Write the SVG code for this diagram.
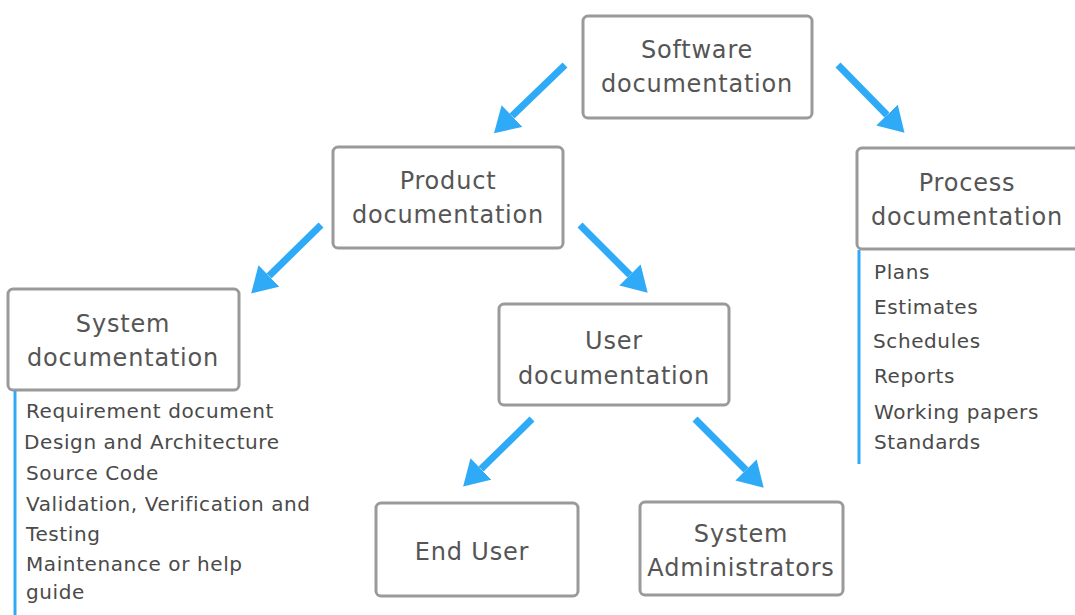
<svg xmlns="http://www.w3.org/2000/svg" width="1075" height="615" viewBox="0 0 1075 615">
  <style>
    .box { fill: #ffffff; stroke: #9a9a9a; stroke-width: 3; }
    .label { font-family: "DejaVu Sans", "Liberation Sans", sans-serif; font-size: 24px; letter-spacing: 0.8px; fill: #555555; text-anchor: middle; }
    .item { font-family: "DejaVu Sans", "Liberation Sans", sans-serif; font-size: 20px; letter-spacing: 0.6px; fill: #4a4a4a; }
    .arrow { stroke: #2eaaf7; stroke-width: 7; fill: none; marker-end: url(#head); }
    .rail { stroke: #2eaaf7; stroke-width: 3; }
  </style>
  <defs>
    <marker id="head" viewBox="0 0 10 10" refX="0" refY="5" markerWidth="25" markerHeight="30" markerUnits="userSpaceOnUse" orient="auto" preserveAspectRatio="none">
      <path d="M0,0 L10,5 L0,10 z" fill="#2eaaf7"/>
    </marker>
  </defs>
  <rect width="1075" height="615" fill="#ffffff"/>

  <g id="connectors">
    <line class="arrow" x1="565" y1="65" x2="512" y2="116"/>
    <line class="arrow" x1="838" y1="65" x2="887" y2="115"/>
    <line class="arrow" x1="321" y1="225" x2="269" y2="276"/>
    <line class="arrow" x1="580" y1="225" x2="630" y2="275"/>
    <line class="arrow" x1="532" y1="419" x2="481" y2="469"/>
    <line class="arrow" x1="695" y1="419" x2="746" y2="470"/>
  </g>

  <g id="software">
    <rect class="box" x="583" y="16" width="229" height="102" rx="5"/>
    <text class="label" x="697" y="58">Software</text>
    <text class="label" x="697" y="92">documentation</text>
  </g>

  <g id="product">
    <rect class="box" x="333" y="147" width="230" height="101" rx="5"/>
    <text class="label" x="448" y="189">Product</text>
    <text class="label" x="448" y="223">documentation</text>
  </g>

  <g id="process">
    <rect class="box" x="857" y="148" width="225" height="101" rx="5"/>
    <text class="label" x="967" y="191">Process</text>
    <text class="label" x="967" y="225">documentation</text>
    <line class="rail" x1="859" y1="250" x2="859" y2="464"/>
    <text class="item" x="874" y="279">Plans</text>
    <text class="item" x="874" y="314">Estimates</text>
    <text class="item" x="873" y="348">Schedules</text>
    <text class="item" x="874" y="383">Reports</text>
    <text class="item" x="874" y="419">Working papers</text>
    <text class="item" x="874" y="449">Standards</text>
  </g>

  <g id="system">
    <rect class="box" x="8" y="289" width="231" height="101" rx="5"/>
    <text class="label" x="123" y="332">System</text>
    <text class="label" x="123" y="366">documentation</text>
    <line class="rail" x1="15" y1="391" x2="15" y2="615"/>
    <text class="item" x="26" y="418">Requirement document</text>
    <text class="item" x="24" y="449">Design and Architecture</text>
    <text class="item" x="26" y="480">Source Code</text>
    <text class="item" x="26" y="511">Validation, Verification and</text>
    <text class="item" x="26" y="541">Testing</text>
    <text class="item" x="26" y="571">Maintenance or help</text>
    <text class="item" x="26" y="599">guide</text>
  </g>

  <g id="user">
    <rect class="box" x="499" y="304" width="230" height="101" rx="5"/>
    <text class="label" x="614" y="349">User</text>
    <text class="label" x="614" y="384">documentation</text>
  </g>

  <g id="end-user">
    <rect class="box" x="376" y="503" width="202" height="93" rx="5"/>
    <text class="label" x="472" y="560">End User</text>
  </g>

  <g id="system-administrators">
    <rect class="box" x="640" y="502" width="203" height="93" rx="5"/>
    <text class="label" x="741" y="542">System</text>
    <text class="label" x="741" y="576">Administrators</text>
  </g>
</svg>
